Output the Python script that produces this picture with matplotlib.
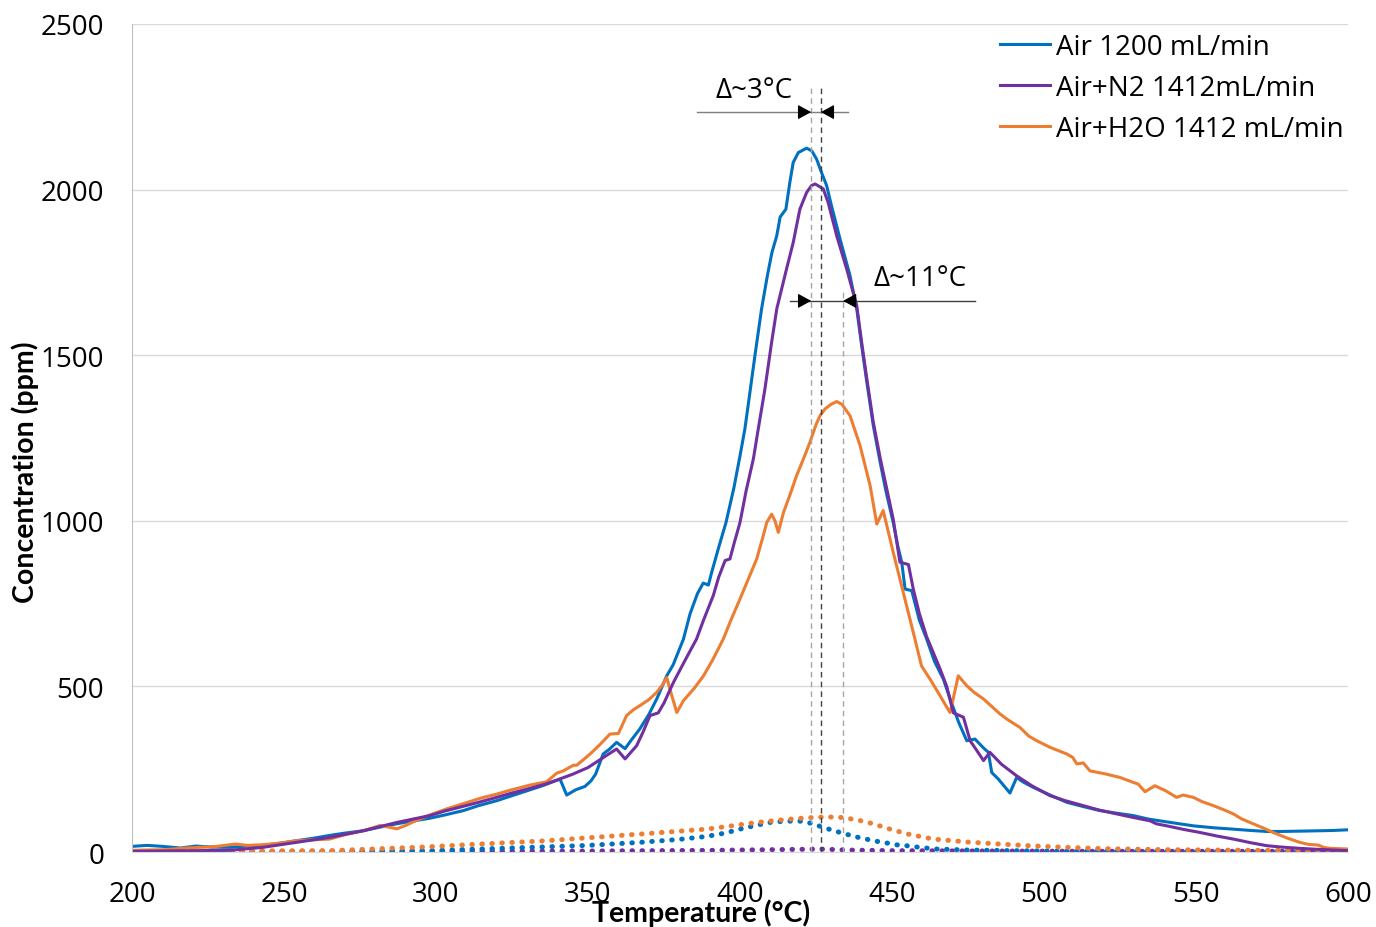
import matplotlib
matplotlib.use("Agg")
import matplotlib.pyplot as plt
from matplotlib.lines import Line2D

plt.rcParams['font.family'] = ['Open Sans', 'DejaVu Sans']

# ---------------- data ----------------
air_T = [200, 205, 210, 216, 221, 226, 232, 238, 243, 249, 254, 260, 265, 270, 276, 281, 287, 292, 298, 303,
         309, 314, 320, 325, 330, 335, 339, 340.8, 343, 346, 349, 351, 352.5, 355, 357, 359.4, 362.2, 364, 367, 370,
         372.6, 375.9, 378, 381.4, 383.6, 386, 387.9, 389.6, 390.7, 393, 395.4, 398, 400, 401.6, 403, 404.9,
         407.1, 409, 410.5, 412.1, 413.2, 415.1, 416.4, 417.5, 419.2, 421.9, 423.6, 425.2, 426.8, 428.5, 430.1,
         432.9, 436.2, 438.4, 440, 441.7, 443.8, 446.1, 448, 450.4, 452, 453.2, 454.3, 456.5, 459, 461.4, 464,
         466.9, 469.1, 472, 474.6, 477.3, 480, 481.7, 482.8, 485, 488.8, 491, 493, 496.5, 502, 507.5, 513, 518.4,
         524, 529.4, 534, 538.2, 544, 549.1, 556, 562.3, 568, 573.3, 578, 584.2, 590, 595, 600]
air_C = [17, 20, 17, 12, 18, 15, 14, 18, 20, 27, 34, 42, 50, 57, 64, 74, 85, 93, 102, 112,
         125, 140, 155, 170, 185, 200, 214, 220, 172, 188, 198, 215, 235, 296, 310, 331, 312, 335, 371, 415,
         462, 532, 565, 643, 720, 780, 812, 806, 845, 920, 995, 1100, 1196, 1277, 1370, 1498,
         1640, 1740, 1810, 1861, 1917, 1941, 2022, 2082, 2112, 2125, 2117, 2092, 2052, 2012, 1951,
         1851, 1740, 1640, 1530, 1420, 1290, 1177, 1090, 995, 920, 875, 794, 789, 700, 643, 575,
         522, 462, 390, 336, 341, 315, 301, 240, 220, 178, 225, 212, 195, 172, 150, 137, 125,
         117, 110, 100, 94, 86, 79, 73, 69, 65, 62, 62, 63, 64, 65, 67]

n2_T = [200, 210, 220, 232, 243, 254, 265, 276, 287, 298, 303, 309, 314, 318, 325, 330, 336, 340, 345, 350,
        356, 359.4, 362.2, 364, 366, 368, 370.4, 373.1, 375, 378.1, 382, 385.7, 388, 391.2, 393, 395.1, 396.7, 398,
        400, 402, 404.4, 406, 408.2, 410.4, 412.1, 415.3, 417.5, 419.7, 421.9, 423.5, 424.7, 426, 427.4, 429,
        431.8, 435.1, 438.4, 440, 441.7, 443.8, 446.1, 450.4, 452.6, 455.4, 457, 459, 461.4, 465.8, 468, 470.2,
        473.5, 475.7, 478, 480.1, 482.2, 486, 491, 496, 502, 507, 512.9, 518, 523.9, 529, 534.9, 537, 540.4, 546,
        551.3, 557, 562.3, 568, 573.3, 578, 584.2, 590, 595, 600]
n2_C = [2, 3, 4, 5, 14, 29, 44, 64, 89, 110, 124, 138, 150, 160, 178, 190, 205, 218, 235, 255,
        291, 311, 281, 300, 321, 360, 412, 420, 450, 512, 580, 643, 700, 774, 830, 880, 885, 930,
        995, 1090, 1187, 1277, 1398, 1539, 1640, 1760, 1840, 1941, 1991, 2012, 2017, 2010, 2002, 1961,
        1861, 1760, 1650, 1540, 1430, 1300, 1190, 1005, 875, 868, 794, 720, 650, 553, 500, 420,
        407, 336, 305, 276, 301, 265, 230, 200, 170, 155, 140, 127, 115, 105, 94, 85, 79, 68,
        59, 48, 39, 28, 19, 15, 11, 8, 6, 4]

h2o_T = [200, 205, 211, 216, 222, 228, 234, 238, 243, 249, 254, 260, 265, 270, 276, 281.6, 284, 287.1, 290, 292.5,
         298, 303.5, 309, 314.5, 320, 325, 330.9, 336.4, 339.7, 341.9, 345.2, 346.3, 348, 350.7, 354, 357.2, 360,
         362.7, 365, 367.1, 370, 372.6, 374.5, 375.9, 377, 379.2, 381.4, 385, 388, 391, 394.5, 397, 400, 403, 405.5,
         407.5, 408.8, 410.4, 411.5, 412.6, 414.3, 416.5, 418.6, 421, 423, 425, 426.3, 428, 430, 431.8, 433.5,
         436.2, 439.5, 442.8, 445, 447.1, 450.4, 453.7, 457, 459.7, 462.5, 465.8, 467.5, 469.1, 470.3, 471.8,
         474.6, 477, 480.1, 485.5, 488, 492.1, 495, 497.6, 502, 507.5, 509.5, 510.8, 512.9, 515.1, 520.6, 525,
         529.4, 531, 533.2, 536.5, 540, 543.6, 545.8, 549.1, 552, 555.7, 559, 562.3, 565, 567.8, 572, 575.4, 580,
         584.2, 587, 590.2, 592, 594.1, 600]
h2o_C = [5, 6, 7, 11, 14, 17, 24, 20, 22, 27, 34, 37, 39, 52, 64, 80, 76, 70, 80, 91,
         112, 130, 146, 162, 175, 188, 202, 212, 238, 245, 262, 262, 275, 296, 325, 356, 358,
         412, 430, 442, 460, 482, 505, 527, 490, 421, 457, 495, 532, 580, 643, 700, 764, 830, 885,
         950, 995, 1020, 1000, 965, 1025, 1080, 1136, 1190, 1237, 1290, 1317, 1338, 1352, 1360, 1352,
         1317, 1227, 1106, 990, 1031, 905, 784, 663, 562, 522, 472, 445, 421, 470, 532,
         502, 482, 462, 417, 400, 376, 350, 336, 316, 296, 285, 266, 269, 245, 235, 225,
         210, 205, 182, 200, 185, 165, 172, 165, 152, 140, 128, 115, 100, 89, 73, 59, 42,
         29, 23, 21, 14, 11, 9]

# dotted (secondary species) traces
air_dot_T = [200, 230, 260, 298, 331, 350, 367, 380, 389, 395, 400, 405, 410.9, 418.6, 421, 424.1, 427.4, 432.9,
             438, 443.9, 449, 452.6, 454.8, 460, 464.7, 474.6, 490, 510, 550, 600]
air_dot_C = [0, 1, 2, 4, 14, 20, 29, 38, 47, 57, 69, 80, 91, 94, 92, 85, 74, 59,
             46, 34, 26, 20, 19, 13, 9, 6, 4, 2, 1, 1]
h2o_dot_T = [200, 230, 265, 296, 314.5, 336.4, 363.8, 367, 389, 405.5, 415, 421.9, 428.5, 434, 439, 443.9, 449,
             454.8, 463.5, 475, 485.5, 495, 507.5, 520, 540, 570, 600]
h2o_dot_C = [2, 3, 4, 15, 24, 34, 52, 54, 69, 89, 98, 103, 106, 104, 96, 85, 70,
             55, 39, 30, 24, 19, 14, 10, 7, 5, 5]
n2_dot_T = [200, 300, 350, 390, 410, 420, 426, 435, 450, 480, 520, 600]
n2_dot_C = [1, 2, 3, 5, 7, 8, 9, 6, 4, 3, 2, 2]

labels = ["Air 1200 mL/min", "Air+N2 1412mL/min", "Air+H2O 1412 mL/min"]
colors = ["#0070C0", "#7030A0", "#ED7D31"]
x_ticks = [200, 250, 300, 350, 400, 450, 500, 550, 600]
y_ticks = [0, 500, 1000, 1500, 2000, 2500]

# annotation values (peak temperatures)
peak_air, peak_n2, peak_h2o = 423.4, 426.6, 433.9

# ---------------- plot ----------------
fig = plt.figure(figsize=(13.76, 9.28), dpi=100)
ax = fig.add_axes([132/1376, 1-853/928, 1216/1376, 828/928])

dot_style = dict(linestyle=(0, (0.1, 1.9)), lw=3.6, dash_capstyle='round')
ax.plot(n2_dot_T, n2_dot_C, color=colors[1], **dot_style)
ax.plot(air_dot_T, air_dot_C, color=colors[0], **dot_style)
ax.plot(h2o_dot_T, h2o_dot_C, color=colors[2], **dot_style)

lw = 2.2
ax.plot(air_T, air_C, color=colors[0], lw=lw, label=labels[0], solid_joinstyle='round')
ax.plot(h2o_T, h2o_C, color=colors[2], lw=lw, label=labels[2], solid_joinstyle='round')
ax.plot(n2_T, n2_C, color=colors[1], lw=lw, label=labels[1], solid_joinstyle='round')

# dashed peak markers
ax.vlines(peak_air, 0, 2320, colors='#a6a6a6', linestyles=(0, (4, 3)), lw=1.0)
ax.vlines(peak_n2, 0, 2320, colors='#404040', linestyles=(0, (4, 3)), lw=1.0)
ax.vlines(peak_h2o, 0, 1695, colors='#a6a6a6', linestyles=(0, (4, 3)), lw=1.0)

# delta annotations
y1, y2 = 2234, 1664
ax.plot([385.9, 435.5], [y1, y1], color='#7f7f7f', lw=1.0)
ax.plot([416.4, 477.3], [y2, y2], color='#404040', lw=1.0)
arr = dict(arrowstyle='-|>,head_length=0.55,head_width=0.3', color='black', lw=0.8, mutation_scale=15,
           shrinkA=0, shrinkB=0)
ax.annotate('', xy=(peak_air, y1), xytext=(peak_air - 4, y1), arrowprops=arr)
ax.annotate('', xy=(peak_n2, y1), xytext=(peak_n2 + 4, y1), arrowprops=arr)
ax.annotate('', xy=(peak_air, y2), xytext=(peak_air - 4, y2), arrowprops=arr)
ax.annotate('', xy=(peak_h2o, y2), xytext=(peak_h2o + 4, y2), arrowprops=arr)
ax.text(404.6, 2300, "Δ~3°C", fontsize=20, ha='center', va='center')
ax.text(459.2, 1734, "Δ~11°C", fontsize=20, ha='center', va='center')

ax.set_xlim(200, 600)
ax.set_ylim(0, 2500)
ax.set_xticks(x_ticks)
ax.set_yticks(y_ticks)
ax.tick_params(axis='both', length=0, labelsize=20, labelcolor='black')
ax.tick_params(axis='y', pad=20)
ax.tick_params(axis='x', pad=20)
ax.grid(axis='y', color='#d9d9d9', lw=1.0)
ax.set_axisbelow(True)
for s in ['top', 'right']:
    ax.spines[s].set_visible(False)
ax.spines['left'].set_color('#bfbfbf')
ax.spines['bottom'].set_color('#d9d9d9')

ax.set_xlabel("Temperature (°C)", fontsize=20.5, fontweight='bold', family=['Lato', 'DejaVu Sans'])
ax.xaxis.set_label_coords((701-132)/1216, (853-913)/828)
ax.xaxis.label.set_va('center')
ax.set_ylabel("Concentration (ppm)", fontsize=20.5, fontweight='bold', family=['Lato', 'DejaVu Sans'])
ax.yaxis.set_label_coords((25-132)/1216, (853-472)/828)
ax.yaxis.label.set_va('center')

handles = [Line2D([], [], color=c, lw=lw) for c in colors]
ax.legend(handles, labels, loc='upper right', bbox_to_anchor=(1.01, 1.009), frameon=False, fontsize=20,
          handlelength=1.8, handletextpad=0.2, labelspacing=0.46, borderaxespad=0.2)

fig.savefig("out.png", dpi=100)
